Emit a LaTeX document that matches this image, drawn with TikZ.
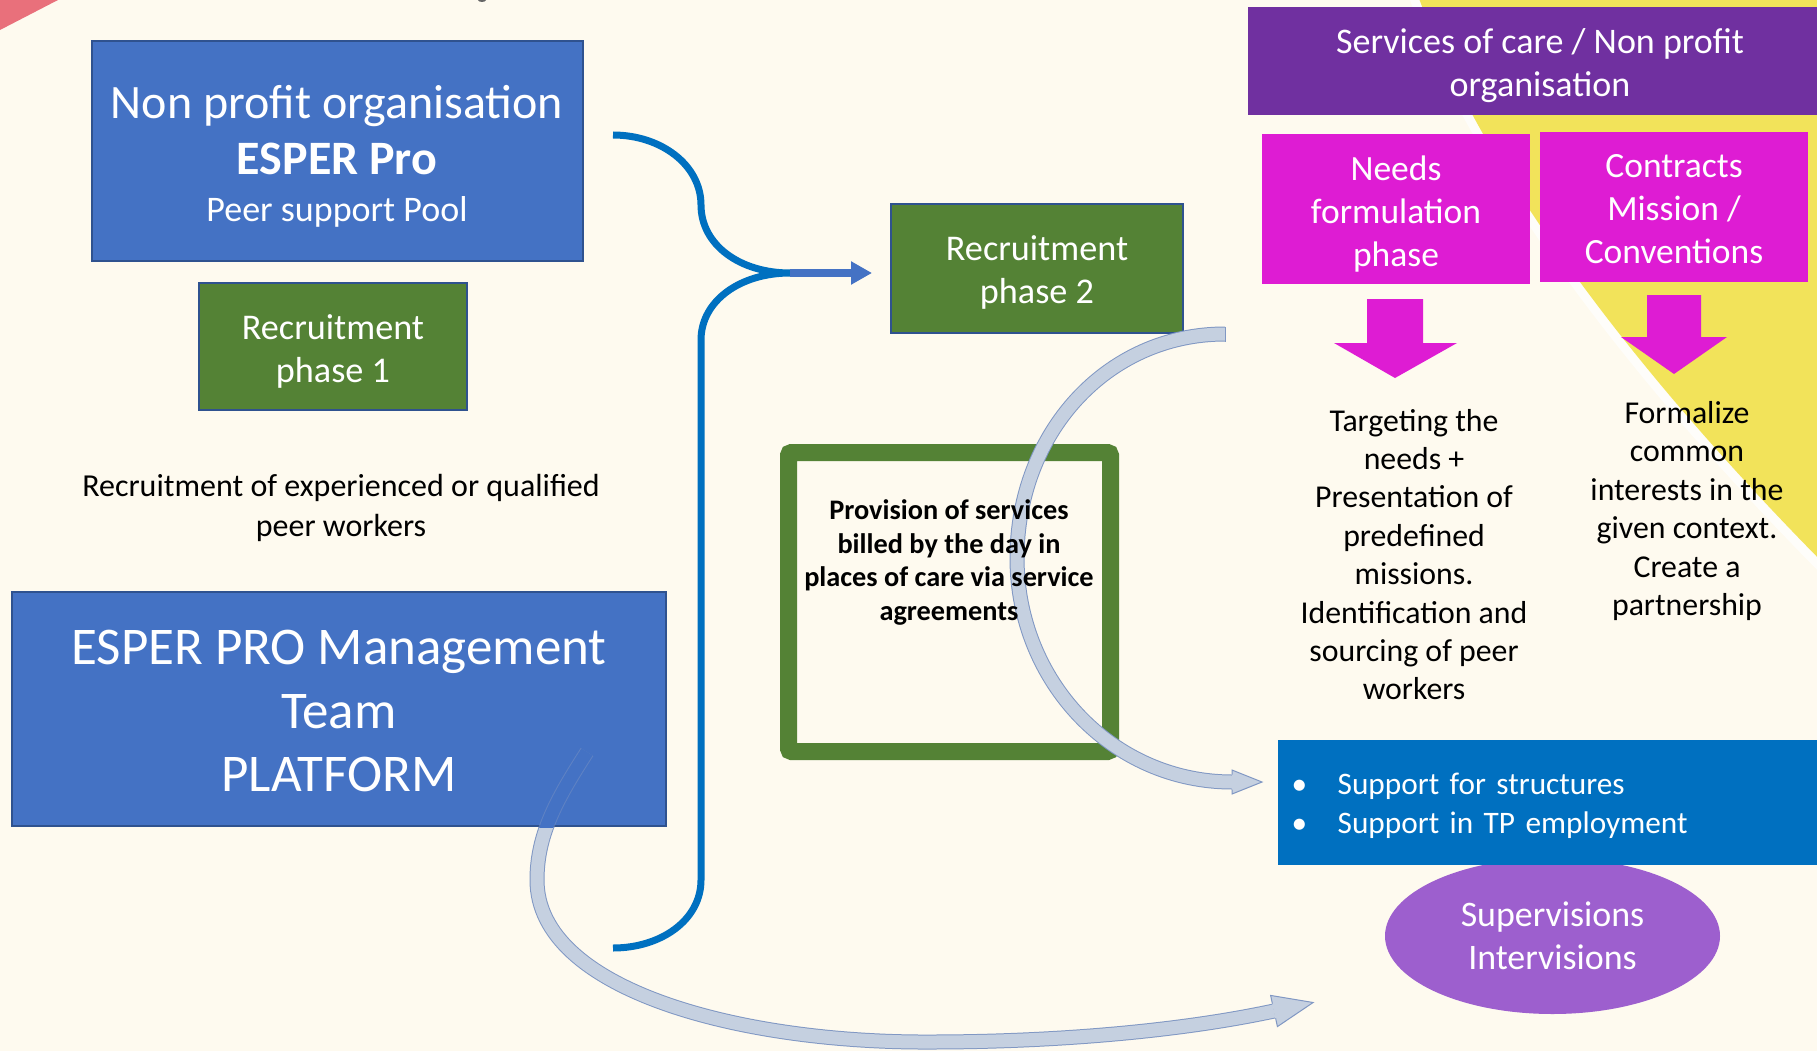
\documentclass[tikz,border=0pt]{standalone}
\usepackage{fontspec}
\setmainfont{Carlito}
\usetikzlibrary{arrows.meta,shapes.geometric}

\definecolor{paper}{HTML}{FEFAEF}
\definecolor{sun}{HTML}{F2E35A}
\definecolor{coral}{HTML}{E9707B}
\definecolor{boxblue}{HTML}{4472C4}
\definecolor{edgeblue}{HTML}{2F528F}
\definecolor{leaf}{HTML}{548235}
\definecolor{plum}{HTML}{7030A0}
\definecolor{fuchsia}{HTML}{DE1CD3}
\definecolor{ocean}{HTML}{0070C0}
\definecolor{lilac}{HTML}{9D5FCE}
\definecolor{arrowfill}{HTML}{C5D0E0}
\definecolor{arrowedge}{HTML}{8097C3}

\newcommand\setfs[2]{\fontsize{#1pt}{#2pt}\selectfont}
% invisible strut that pads the top of a text block
\newcommand\topgap[1]{\rule{0pt}{#1}}

\tikzset{
  panel/.style={rectangle, draw=edgeblue, line width=2pt, text=white,
    align=center, inner sep=0pt},
  tile/.style={rectangle, text=white, align=center, inner sep=0pt},
  note/.style={align=center, text=black, inner sep=0pt},
  band/.style={draw=arrowedge, line width=1pt, double=arrowfill,
    double distance=13pt},
  bandedge/.style={draw=arrowedge, line width=1pt, line join=miter},
  brace/.style={draw=ocean, line width=7pt, line join=round},
}

\begin{document}
\begin{tikzpicture}[x=1pt, y=-1pt]
\useasboundingbox (0,0) rectangle (1817,1051);
\fill[paper] (0,0) rectangle (1817,1051);

% backdrop decorations
\draw[white, line width=18pt, opacity=.75]
  (1416,-10) .. controls (1465,130) and (1590,330) .. (1840,580);
\fill[sun] (1416,-10) .. controls (1465,130) and (1590,330) .. (1840,580)
  -- (1840,-10) -- cycle;
\fill[coral] (0,0) -- (58,0) -- (0,30) -- cycle;
\fill[black!60] (482,0) ellipse [x radius=4pt, y radius=2pt];

% sweeping arrow from the platform to the supervisions
\draw[band] (587,752) .. controls (556,800) and (537,835) .. (537,880)
  .. controls (537,990) and (740,1043) .. (930,1042)
  .. controls (1050,1042) and (1176,1032) .. (1274,1011);
\fill[arrowfill] (1270.6,995.4) -- (1313.1,1002.5) -- (1277.4,1026.6) -- cycle;
\draw[bandedge] (1272.4,1003.7) -- (1270.6,995.4) -- (1313.1,1002.5)
  -- (1277.4,1026.6) -- (1275.6,1018.3);

% left column
\node[panel, fill=boxblue, minimum width=491pt, minimum height=219pt,
  font=\setfs{48}{56}] (org) at (337,151)
  {\topgap{0.92em}Non profit organisation\\\textbf{ESPER Pro}\\[-9pt]{\setfs{36}{42}Peer support Pool}};
\node[panel, fill=leaf, minimum width=268pt, minimum height=127pt,
  font=\setfs{36.2}{43}] (rec1) at (333,346.5) {\topgap{0.94em}Recruitment\\phase 1};
\node[note, font=\setfs{32}{39.4}] (pool) at (341,508)
  {Recruitment of experienced or qualified\\peer workers};
\node[panel, fill=boxblue, minimum width=654.7pt, minimum height=234pt,
  font=\setfs{53}{63.5}] (team) at (339,709)
  {\topgap{0.74em}ESPER PRO Management\\Team\\PLATFORM};

% the sweeping arrow seen through the platform box
\begin{scope}
  \clip (team.south west) rectangle (team.north east);
  \draw[arrowedge, opacity=.45, line width=15pt]
    (587,752) .. controls (556,800) and (537,835) .. (537,880)
    .. controls (537,990) and (740,1043) .. (930,1042);
  \draw[boxblue, line width=13pt]
    (587,752) .. controls (556,800) and (537,835) .. (537,880)
    .. controls (537,990) and (740,1043) .. (930,1042);
\end{scope}

% brace gathering both pools
\draw[brace] (613,135) .. controls (661,135) and (701,165) .. (701,205)
  .. controls (701,245) and (740,273) .. (790,273) coordinate (tip)
  .. controls (740,273) and (701,301) .. (701,340) -- (701,880)
  .. controls (701,920) and (661,948) .. (613,948);

% middle column
\node[panel, fill=leaf, minimum width=292pt, minimum height=129pt,
  font=\setfs{36.2}{43}] (rec2) at (1037,268.5) {\topgap{0.88em}Recruitment\\phase 2};
\draw[boxblue, line width=8pt, -{Triangle[length=21pt,width=22pt]},
  shorten >=18pt] (tip) -- (tip -| rec2.west);

\node[rectangle, draw=leaf, line width=17pt, rounded corners=3pt,
  minimum width=322pt, minimum height=299pt, inner sep=0pt] (billing) at (949.5,602) {};

% arrow from recruitment towards support
\draw[band] (1225,334) .. controls (1106,334) and (1017,434) .. (1017,558)
  .. controls (1017,682) and (1113,782) .. (1232,782);
\draw[bandedge] (1225,326.5) -- (1225,341.5);
\fill[arrowfill] (1232,770) -- (1262,782) -- (1232,794) -- cycle;
\draw[bandedge] (1232,774.5) -- (1232,770) -- (1262,782) -- (1232,794) -- (1232,789.5);

\node[note, font=\bfseries\setfs{28.3}{33.6}] (billtext) at (949,562.5)
  {Provision of services\\billed by the day in\\places of care via service\\agreements};

% right column
\node[tile, fill=plum, minimum width=584pt, minimum height=108pt,
  font=\setfs{36}{43}] (care) at (1540,61)
  {\topgap{0.97em}Services of care / Non profit\\organisation};
\node[tile, fill=fuchsia, minimum width=268pt, minimum height=150pt,
  font=\setfs{35.5}{43}] (needs) at (1396,209) {\topgap{0.96em}Needs\\formulation\\phase};
\node[tile, fill=fuchsia, minimum width=268pt, minimum height=150pt,
  font=\setfs{35.5}{43}] (contracts) at (1674,207) {\topgap{0.79em}Contracts\\Mission /\\Conventions};

\fill[fuchsia] (1367,299) -- (1423,299) -- (1423,343) -- (1457,343)
  -- (1395,378) -- (1334,343) -- (1367,343) -- cycle;
\fill[fuchsia] (1647,295) -- (1701,295) -- (1701,337) -- (1727,337)
  -- (1674,374) -- (1621,337) -- (1647,337) -- cycle;

\node[note, font=\setfs{31.8}{38.4}] (target) at (1414,554.5)
  {Targeting the\\needs +\\Presentation of\\predefined\\missions.\\Identification and\\sourcing of peer\\workers};
\node[note, font=\setfs{31.8}{38.4}] (formal) at (1687,511)
  {Formalize\\common\\interests in the\\given context.\\Create a\\partnership};

\node[ellipse, fill=lilac, text=white, minimum width=335pt, minimum height=156pt,
  inner sep=0pt, align=center, font=\setfs{35.9}{43.5}] (superv) at (1552.5,936)
  {Supervisions\\Intervisions};
\node[rectangle, fill=ocean, text=white, text width=525pt, inner xsep=14pt,
  inner ysep=0pt, minimum height=125pt, align=left,
  font=\setfs{31.3}{38.4}] (support) at (1554.2,802.5)
  {\topgap{0.9em}\makebox[46pt][l]{\textbullet}Support for structures\\
   \makebox[46pt][l]{\textbullet}Support in TP employment};

\end{tikzpicture}
\end{document}
